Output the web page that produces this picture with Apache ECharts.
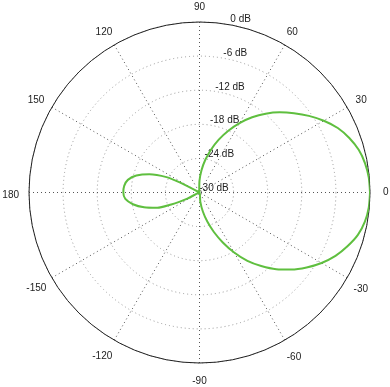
<!DOCTYPE html>
<html>
<head>
<meta charset="utf-8">
<script src="https://cdn.jsdelivr.net/npm/echarts@6/dist/echarts.min.js"></script>
<style>
html,body{margin:0;padding:0;background:#fff;}
#chart{width:390px;height:387px;}
</style>
</head>
<body>
<div id="chart"></div>
<script>
// Angles (degrees, counter-clockwise from 0 = right) and gain in dB
var angles = [0,5,10,15,20,25,30,35,40,45,50,55,60,65,70,75,80,85,90,95,97,
  100,105,110,115,120,125,130,135,140,145,150,153,155,160,165,170,175,180,
  185,190,195,200,203,205,207,210,215,220,225,230,235,240,245,250,255,260,265,
  270,275,280,285,290,295,300,305,310,315,320,325,330,335,340,345,350,355,360];
var gainDb = [0,-0.1,-0.42,-1.0,-1.95,-3.15,-4.75,-6.5,-8.3,-10.05,-11.9,-13.85,-15.9,-18.0,-20.1,-22.2,-24.2,-26.1,-27.9,-29.5,-30,
  -30,-30,-30,-30,-30,-30,-30,-30,-30,-30,-30,-26.1,-23.6,-20.6,-18.5,-17.2,-16.7,-16.6,
  -16.9,-18.1,-19.9,-22.1,-24.6,-26.2,-27.6,-30,-30,-30,-30,-30,-30,-30,-30,-30,-30,-30,-30,
  -30,-28.4,-26.6,-24.7,-22.6,-20.3,-17.8,-15.3,-13.1,-10.9,-8.9,-7.0,-5.2,-3.6,-2.3,-1.15,-0.45,-0.1,0];
var radiusMin = -30, radiusMax = 0, radiusStep = 6;
var angleStep = 30;

var data = angles.map(function (a, i) { return [gainDb[i], a]; });

// per-label nudges for the angle tick labels (padding [top, right, bottom, left])
var labelPad = {
  0: [0,0,0,9], 30: [0,0,0,5], 60: [0,0,4,0], 90: [0,0,6,0], 120: [0,0,4,0], 150: [0,4,0,0],
  180: [5,6,0,0], 210: [3,2,0,0], 240: [8,0,0,0], 270: [9,0,0,0], 300: [9,0,0,0], 330: [4,0,0,3]
};
var font = 'Liberation Sans, Arial, sans-serif';
var rich = {};
Object.keys(labelPad).forEach(function (k) {
  rich['a' + k] = {padding: labelPad[k], color: '#222', fontFamily: font, fontSize: 10};
});

var chart = echarts.init(document.getElementById('chart'), null, {renderer: 'canvas'});
chart.setOption({
  animation: false,
  backgroundColor: '#fff',
  polar: [
    {center: [199.5, 192.5], radius: 170.5},
    {center: [199.5, 192.5], radius: [6.7, 177.2]}
  ],
  angleAxis: [
    {
      polarIndex: 0, type: 'value', min: 0, max: 360, interval: angleStep,
      startAngle: 0, clockwise: false,
      axisLine: {show: true, lineStyle: {color: '#222', width: 1}},
      axisTick: {show: false},
      splitLine: {show: true, lineStyle: {color: '#555', type: [1, 3], width: 1}},
      axisLabel: {
        margin: 4, color: '#222', fontFamily: font, fontSize: 10, rich: rich,
        formatter: function (v) {
          if (v === 360) return '';
          return '{a' + v + '|' + (v > 180 ? v - 360 : v) + '}';
        }
      }
    },
    {
      polarIndex: 1, type: 'value', min: 0, max: 360, startAngle: 81, clockwise: false,
      axisLine: {show: false}, axisTick: {show: false}, axisLabel: {show: false}, splitLine: {show: false}
    }
  ],
  radiusAxis: [
    {
      polarIndex: 0, type: 'value', min: radiusMin, max: radiusMax, interval: radiusStep,
      axisLine: {show: false}, axisTick: {show: false}, axisLabel: {show: false},
      splitLine: {show: true, lineStyle: {color: '#999', type: [1, 3], width: 1}}
    },
    {
      polarIndex: 1, type: 'value', min: radiusMin, max: radiusMax, interval: radiusStep,
      axisLine: {show: false}, axisTick: {show: false}, splitLine: {show: false},
      axisLabel: {
        show: true, margin: -13.6, color: '#222', fontFamily: font, fontSize: 10,
        align: 'center', verticalAlign: 'middle',
        formatter: '{value} dB'
      }
    }
  ],
  series: [{
    type: 'line', coordinateSystem: 'polar', polarIndex: 0,
    data: data, showSymbol: false, symbol: 'none', smooth: 0.25,
    lineStyle: {color: '#5fbf3f', width: 2}
  }]
});
</script>
</body>
</html>
